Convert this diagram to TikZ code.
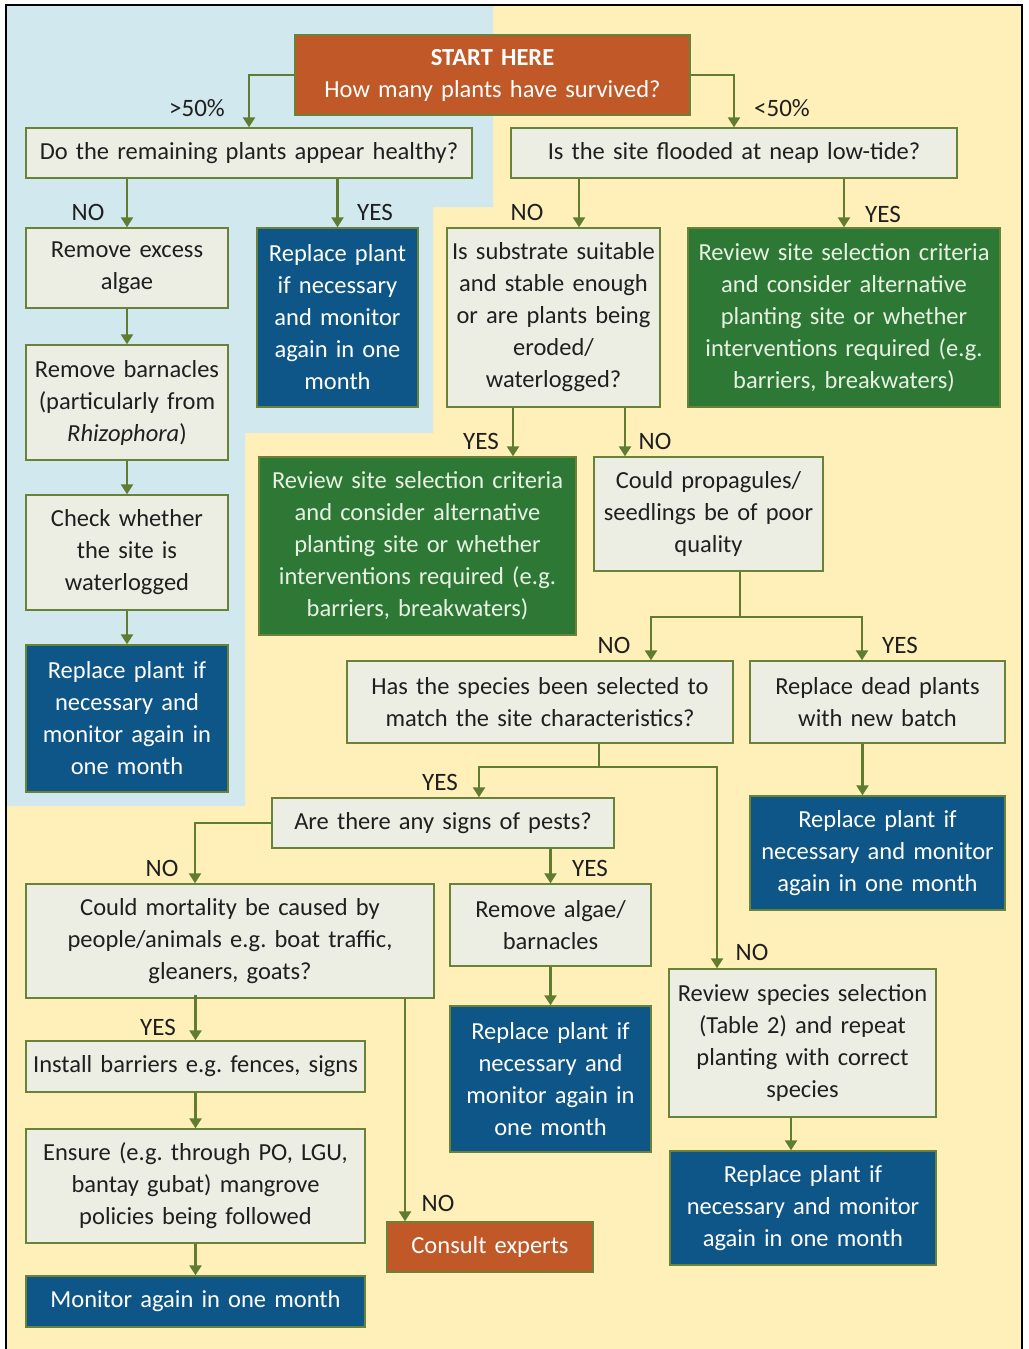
\documentclass[tikz,border=0pt]{standalone}
\usepackage{fontspec}
\setmainfont{Carlito}
\usetikzlibrary{arrows.meta,calc}
\definecolor{bgyellow}{RGB}{254,240,184}
\definecolor{bgblue}{RGB}{208,232,238}
\definecolor{greyf}{RGB}{236,238,228}
\definecolor{bord}{RGB}{104,130,56}
\definecolor{arrc}{RGB}{96,124,48}
\definecolor{bluef}{RGB}{14,86,136}
\definecolor{greenf}{RGB}{46,120,54}
\definecolor{orangef}{RGB}{192,88,40}
\definecolor{greentext}{RGB}{232,242,226}
\frenchspacing
\newcommand{\bx}[7]{\node[#2, minimum height=#6pt, text width=#5pt] (#1) at (#3,#4) {#7};}
\begin{document}
\begin{tikzpicture}[x=1pt,y=-1pt,
  base/.style={draw=bord, line width=1.4pt, align=center, inner sep=0pt, font=\fontsize{24.5}{32}\selectfont},
  greybox/.style={base, fill=greyf, text=black!88},
  bluebox/.style={base, fill=bluef, text=white},
  greenbox/.style={base, fill=greenf, text=greentext},
  orangebox/.style={base, fill=orangef, text=white},
  arr/.style={draw=arrc, line width=2.4pt, -{Triangle[width=12pt,length=10pt]}},
  ln/.style={draw=arrc, line width=2.4pt},
  lbl/.style={font=\fontsize{25}{28}\selectfont, text=black!88, inner sep=0pt}]
\useasboundingbox (0,0) rectangle (1028,1349);
% backgrounds
\fill[bgyellow] (6,5) rectangle (1022,1349);
\fill[bgblue] (6,5) -- (493,5) -- (493,207) -- (433,207) -- (433,433) -- (245,433) -- (245,806) -- (6,806) -- cycle;
\draw[line width=2pt, black] (6,1349) -- (6,5) -- (1022,5) -- (1022,1349);
% nodes
\bx{start}{orangebox}{492.5}{75}{395}{80}{\textbf{START HERE}\\How many plants have survived?}
\bx{q1}{greybox}{249}{153}{446}{50}{Do the remaining plants appear healthy?}
\bx{q2}{greybox}{734}{153}{446}{50}{Is the site flooded at neap low-tide?}
\bx{algae}{greybox}{127}{268}{202}{80}{Remove excess\\algae}
\bx{rep1}{bluebox}{337.5}{317.5}{161}{179}{Replace plant\\if necessary\\and monitor\\again in one\\month}
\bx{barn}{greybox}{127}{402.5}{202}{115}{Remove barnacles\\(particularly from\\\textit{Rhizophora})}
\bx{check}{greybox}{127}{552.5}{202}{115}{Check whether\\the site is\\waterlogged}
\bx{rep2}{bluebox}{127}{718.5}{202}{147}{Replace plant if\\necessary and\\monitor again in\\one month}
\bx{subs}{greybox}{553.5}{317.5}{213}{179}{Is substrate suitable\\and stable enough\\or are plants being\\eroded/\\waterlogged?}
\bx{rev1}{greenbox}{844}{317.5}{312}{179}{Review site selection criteria\\and consider alternative\\planting site or whether\\interventions required (e.g.\\barriers, breakwaters)}
\bx{rev2}{greenbox}{417.5}{546}{317}{178}{Review site selection criteria\\and consider alternative\\planting site or whether\\interventions required (e.g.\\barriers, breakwaters)}
\bx{prop}{greybox}{708.5}{514}{229}{114}{Could propagules/\\seedlings be of poor\\quality}
\bx{species}{greybox}{540}{702}{386}{82}{Has the species been selected to\\match the site characteristics?}
\bx{dead}{greybox}{877.5}{702}{255}{82}{Replace dead plants\\with new batch}
\bx{rep3}{bluebox}{877.5}{853}{255}{114}{Replace plant if\\necessary and monitor\\again in one month}
\bx{pests}{greybox}{443}{823}{342}{50}{Are there any signs of pests?}
\bx{mort}{greybox}{230}{941}{408}{114}{Could mortality be caused by\\people/animals e.g. boat traffic,\\gleaners, goats?}
\bx{ralg}{greybox}{550.5}{925}{201}{82}{Remove algae/\\barnacles}
\bx{rep4}{bluebox}{550.5}{1079}{201}{146}{Replace plant if\\necessary and\\monitor again in\\one month}
\bx{revsp}{greybox}{802.5}{1043}{267}{148}{Review species selection\\(Table 2) and repeat\\planting with correct\\species}
\bx{rep5}{bluebox}{803}{1208}{266}{114}{Replace plant if\\necessary and monitor\\again in one month}
\bx{inst}{greybox}{195.5}{1066.5}{339}{51}{Install barriers e.g. fences, signs}
\bx{ens}{greybox}{195.5}{1186}{339}{114}{Ensure (e.g. through PO, LGU,\\bantay gubat) mangrove\\policies being followed}
\bx{mon}{bluebox}{195.5}{1301.5}{339}{51}{Monitor again in one month}
\bx{cons}{orangebox}{490}{1247}{206}{50}{Consult experts}
% junction coordinates
\coordinate (pj) at (740,617);
\coordinate (sj) at (599,767);
% connectors
\draw[arr] (start.west) -| (q1.north);
\draw[arr] (start.east) -| (q2.north);
\draw[arr] (algae.north |- q1.south) -- (algae.north);
\draw[arr] (rep1.north |- q1.south) -- (rep1.north);
\draw[arr] (algae) -- (barn);
\draw[arr] (barn) -- (check);
\draw[arr] (check) -- (rep2);
\draw[arr] ([xshift=25.5pt]subs.north |- q2.south) -- ([xshift=25.5pt]subs.north);
\draw[arr] (rev1.north |- q2.south) -- (rev1.north);
\draw[arr] ([xshift=-40.5pt]subs.south) -- ([xshift=-40.5pt]subs.south |- rev2.north);
\draw[arr] ([xshift=71.5pt]subs.south) -- ([xshift=71.5pt]subs.south |- prop.north);
\draw[ln] ([xshift=31.5pt]prop.south) -- (pj);
\draw[arr] (pj) -| ([xshift=111pt]species.north);
\draw[arr] (pj) -| ([xshift=-15.5pt]dead.north);
\draw[arr] ([xshift=-15pt]dead.south) -- ([xshift=-15pt]rep3.north);
\draw[ln] ([xshift=59pt]species.south) -- (sj);
\draw[arr] (sj) -| ([xshift=36pt]pests.north);
\draw[arr] (sj) -| ([xshift=-85.5pt]revsp.north);
\draw[arr] (pests.west) -| ([xshift=-35pt]mort.north);
\draw[arr] (ralg.north |- pests.south) -- (ralg.north);
\draw[arr] (ralg) -- (rep4);
\draw[arr] ([xshift=-11.5pt]revsp.south) -- ([xshift=-11.5pt]revsp.south |- rep5.north);
\draw[arr] ([yshift=4pt]inst.north |- mort.south) -- (inst.north);
\draw[arr] (inst) -- (ens);
\draw[arr] (ens) -- (mon);
\draw[arr] ([xshift=-85pt]cons.north |- mort.south) -- ([xshift=-85pt]cons.north);
% labels
\node[lbl] (l1) at (197,108) {>50\%};
\node[lbl] (l2) at (782,108) {<50\%};
\node[lbl] (l3) at (88,212) {NO};
\node[lbl] (l4) at (375,212) {YES};
\node[lbl] (l5) at (527,212) {NO};
\node[lbl] (l6) at (883,214) {YES};
\node[lbl] (l7) at (481,441) {YES};
\node[lbl] (l8) at (655,441) {NO};
\node[lbl] (l9) at (614,645) {NO};
\node[lbl] (l10) at (900,645) {YES};
\node[lbl] (l11) at (440,782) {YES};
\node[lbl] (l12) at (752,952) {NO};
\node[lbl] (l13) at (162,868) {NO};
\node[lbl] (l14) at (590,868) {YES};
\node[lbl] (l15) at (158,1027) {YES};
\node[lbl] (l16) at (438,1203) {NO};
\end{tikzpicture}
\end{document}
